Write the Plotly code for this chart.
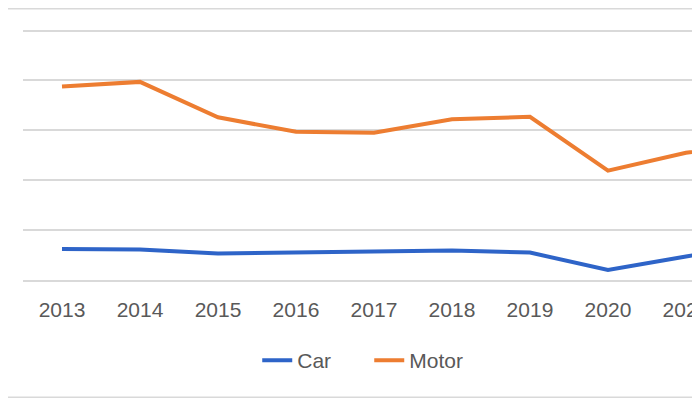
import plotly.graph_objects as go

# === Dados ===
anos = ["2013", "2014", "2015", "2016", "2017", "2018", "2019", "2020", "2021", "2022"]
car = [62, 61, 53, 55, 57, 59, 55, 20, 47, 76]
motor = [388, 397, 326, 297, 295, 322, 327, 219, 255, 277]

cor_car = "#2E64C8"
cor_motor = "#ED7D31"
cinza = "#D9D9D9"

fig = go.Figure()
fig.add_trace(go.Scatter(x=anos, y=car, name="Car", mode="lines",
                         line=dict(color=cor_car, width=4)))
fig.add_trace(go.Scatter(x=anos, y=motor, name="Motor", mode="lines",
                         line=dict(color=cor_motor, width=4)))

# bordas do chart area (recortado)
for yy in [1.076, -0.465]:
    fig.add_shape(type="line", xref="paper", yref="paper", x0=-0.2, x1=1.1, y0=yy, y1=yy,
                  line=dict(color=cinza, width=1.5))

# a pagina tem margem de 8px no body
fig.update_layout(
    width=700, height=400,
    margin=dict(l=15, r=8, t=20, b=128),
    paper_bgcolor="white", plot_bgcolor="white",
    font=dict(family="Liberation Sans, Arial, sans-serif", color="#595959"),
    showlegend=True,
    legend=dict(orientation="h", x=0.346, xanchor="left", y=-0.32, yanchor="middle",
                font=dict(size=21, color="#595959"),
                entrywidth=67, entrywidthmode="pixels"),
)
fig.update_xaxes(type="category", range=[-0.5, 8.18], showgrid=False, automargin=False,
                 showline=True, linecolor=cinza, linewidth=1.5,
                 ticks="outside", ticklen=10, tickcolor="rgba(0,0,0,0)",
                 tickfont=dict(size=21, color="#595959"))
fig.update_yaxes(range=[0, 505], tickvals=[0, 100, 200, 300, 400, 500], showgrid=True,
                 gridcolor=cinza, gridwidth=1.5,
                 showticklabels=False, zeroline=False, automargin=False)

fig.write_html("out.html")
